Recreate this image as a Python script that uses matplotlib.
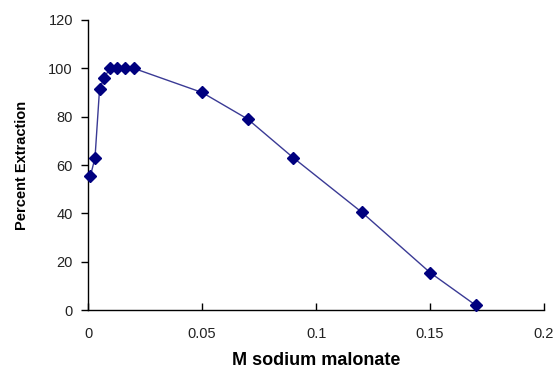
import matplotlib
matplotlib.use('Agg')
import matplotlib.pyplot as plt

conc = [0.001, 0.003, 0.005, 0.007, 0.0095, 0.0125, 0.016, 0.02,
        0.05, 0.07, 0.09, 0.12, 0.15, 0.17]
extraction = [55.5, 63, 91.5, 96, 100, 100, 100, 100,
              90, 79, 63, 40.5, 15.5, 2]
xticks = [0, 0.05, 0.1, 0.15, 0.2]
xlabels = ['0', '0.05', '0.1', '0.15', '0.2']
yticks = [0, 20, 40, 60, 80, 100, 120]

plt.rcParams['font.family'] = ['Liberation Sans', 'DejaVu Sans']

fig = plt.figure(figsize=(5.58, 3.70), dpi=100)
ax = fig.add_axes([0.158, 0.162, 0.817, 0.784])

ax.plot(conc, extraction, color='#3a3a95', linewidth=1.0,
        marker='D', markersize=6.5, markerfacecolor='#00007f',
        markeredgecolor='#00007f', clip_on=False, zorder=3)

ax.set_xlim(0, 0.2)
ax.set_ylim(0, 120)
ax.set_xticks(xticks)
ax.set_xticklabels(xlabels)
ax.set_yticks(yticks)

ax.spines['top'].set_visible(False)
ax.spines['right'].set_visible(False)
for s in ['left', 'bottom']:
    ax.spines[s].set_color('black')
    ax.spines[s].set_linewidth(1.0)

ax.tick_params(axis='x', direction='in', length=5, width=1, labelsize=10.5,
               pad=12, colors='black', labelcolor='#222222')
ax.tick_params(axis='y', direction='out', length=5, width=1, labelsize=10.5,
               pad=6, colors='black', labelcolor='#222222')

ax.set_xlabel('M sodium malonate', fontsize=13, fontweight='bold', labelpad=8)
ax.set_ylabel('Percent Extraction', fontsize=10.5, fontweight='bold', labelpad=14)

fig.savefig('out.png', dpi=100)
